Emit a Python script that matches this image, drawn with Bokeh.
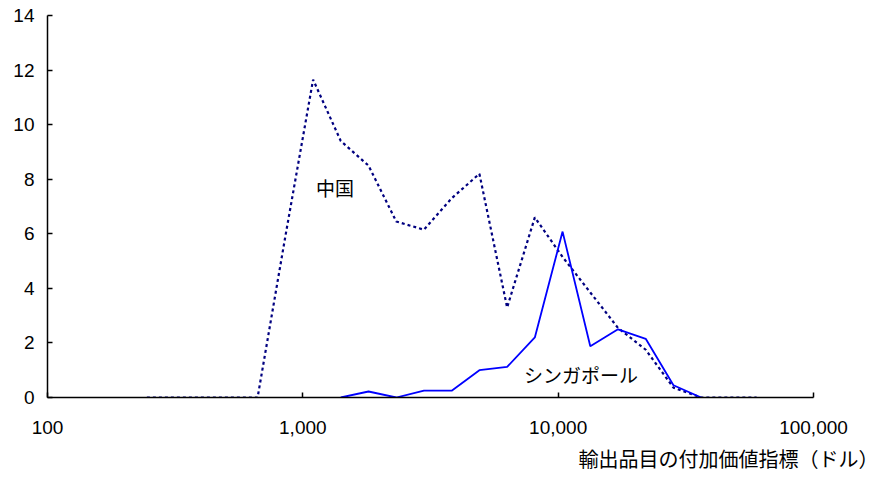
from bokeh.plotting import figure
from bokeh.models import FixedTicker, NumeralTickFormatter, Label, Title
from bokeh.embed import file_html
from bokeh.resources import INLINE

# value-added index bins (dollars)
china_x = [245, 314, 403, 518, 665, 854, 1097, 1408, 1808, 2322, 2981, 3828,
           4915, 6311, 8103, 10405, 13360, 17154, 22026, 28283, 36316, 46630, 59874]
china_y = [0, 0, 0, 0, 0, 5.9, 11.65, 9.4, 8.5, 6.45, 6.15, 7.3,
           8.2, 3.3, 6.6, 5.15, 3.85, 2.55, 1.75, 0.36, 0, 0, 0]

sg_x = [1408, 1808, 2322, 2981, 3828, 4915, 6311, 8103, 10405, 13360, 17154,
        22026, 28283, 36316]
sg_y = [0, 0.22, 0, 0.25, 0.25, 1.0, 1.12, 2.2, 6.08, 1.88, 2.5, 2.15, 0.45, 0]

x_ticks = [100, 1000, 10000, 100000]
y_ticks = [0, 2, 4, 6, 8, 10, 12, 14]

p = figure(width=880, height=477, x_axis_type="log",
           x_range=(100, 100000), y_range=(0, 14),
           output_backend="svg", toolbar_location=None,
           min_border_left=47, min_border_right=67, min_border_top=15,
           min_border_bottom=79)
p.outline_line_color = None
p.grid.visible = False

p.line(china_x, china_y, line_color="#000080", line_width=2.2, line_dash="3 3")
p.line(sg_x, sg_y, line_color="#0000FF", line_width=1.8)

for ax in (p.xaxis[0], p.yaxis[0]):
    ax.axis_line_color = "black"
    ax.axis_line_width = 1.5
    ax.major_tick_line_color = "black"
    ax.major_tick_line_width = 1.5
    ax.major_tick_in = 5
    ax.major_tick_out = 0
    ax.minor_tick_line_color = None
    ax.major_label_text_font = "Liberation Sans"
    ax.major_label_text_font_size = "19px"
    ax.major_label_text_color = "black"

p.xaxis.ticker = FixedTicker(ticks=x_ticks)
p.xaxis.formatter = NumeralTickFormatter(format="0,0")
p.xaxis.major_label_standoff = 23
p.yaxis.ticker = FixedTicker(ticks=y_ticks)
p.yaxis.major_label_standoff = 13

p.add_layout(Label(x=1125, y=7.68, text="中国", text_font="Noto Sans CJK JP",
                   text_font_size="19px", text_baseline="middle", text_align="left",
                   text_color="black"))
p.add_layout(Label(x=7356, y=0.84, text="シンガポール", text_font="Noto Sans CJK JP",
                   text_font_size="19px", text_baseline="middle", text_align="left",
                   text_color="black"))

p.add_layout(Title(text="輸出品目の付加価値指標（ドル）", align="right", offset=-65,
                   text_font="Noto Sans CJK JP", text_font_size="20px",
                   text_font_style="normal", text_color="black", standoff=10), "below")

open("out.html", "w").write(file_html(p, INLINE))
